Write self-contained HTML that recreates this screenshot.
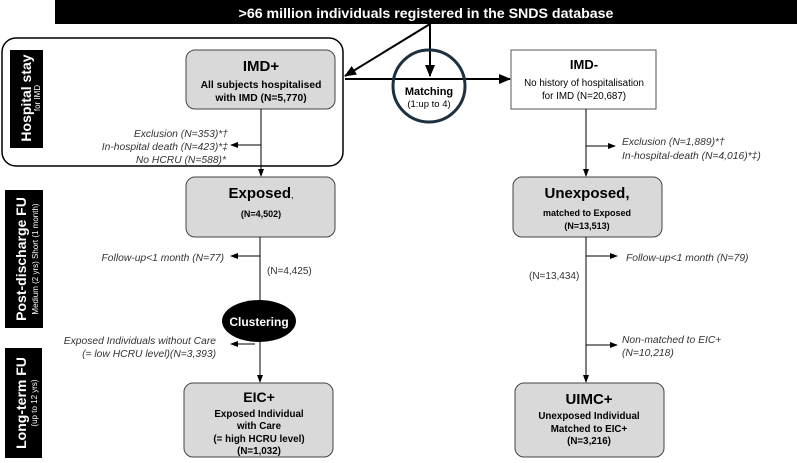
<!DOCTYPE html>
<html><head><meta charset="utf-8"><style>
body{margin:0;background:#fff}
svg text{font-family:"Liberation Sans",Arial,sans-serif}
</style></head><body>
<svg width="798" height="458" viewBox="0 0 798 458" xmlns="http://www.w3.org/2000/svg">
<defs>
<marker id="a" markerWidth="8" markerHeight="8" refX="7" refY="4" orient="auto" markerUnits="userSpaceOnUse"><path d="M0,1 L8,4 L0,7 z" fill="#000"/></marker>
<marker id="b" markerWidth="12" markerHeight="12" refX="11" refY="6" orient="auto" markerUnits="userSpaceOnUse"><path d="M0,1 L12,6 L0,11 z" fill="#000"/></marker>
</defs>
<rect x="55" y="0" width="742" height="24" fill="#000"/>
<text x="426" y="18" font-size="14.2" font-weight="bold" fill="#fff" text-anchor="middle">&gt;66 million individuals registered in the SNDS database</text>

<rect x="2" y="38" width="341" height="128" rx="14" fill="none" stroke="#000" stroke-width="1.5"/>
<rect x="10" y="50" width="33" height="98" fill="#000"/>
<text transform="translate(31,98) rotate(-90)" font-size="14" font-weight="bold" fill="#fff" text-anchor="middle">Hospital stay</text>
<text transform="translate(40,98) rotate(-90)" font-size="8" fill="#fff" text-anchor="middle">for IMD</text>

<rect x="5" y="190" width="38" height="138" fill="#000"/>
<text transform="translate(26,259) rotate(-90)" font-size="14" font-weight="bold" fill="#fff" text-anchor="middle">Post-discharge FU</text>
<text transform="translate(38,259) rotate(-90)" font-size="8" fill="#fff" text-anchor="middle">Medium (2 yrs) Short (1 month)</text>
<rect x="5" y="348" width="37" height="110" fill="#000"/>
<text transform="translate(26,403) rotate(-90)" font-size="14" font-weight="bold" fill="#fff" text-anchor="middle">Long-term FU</text>
<text transform="translate(37,403) rotate(-90)" font-size="8" fill="#fff" text-anchor="middle">(up to 12 yrs)</text>

<!-- IMD+ -->
<rect x="186" y="50" width="149" height="59" rx="9" fill="#d9d9d9" stroke="#444"/>
<text x="261" y="71" font-size="15" font-weight="bold" text-anchor="middle">IMD+</text>
<text x="261" y="88" font-size="10.3" font-weight="bold" text-anchor="middle">All subjects hospitalised</text>
<text x="261" y="101" font-size="10.3" font-weight="bold" text-anchor="middle">with IMD (N=5,770)</text>
<line x1="261" y1="109" x2="261" y2="176" stroke="#000" marker-end="url(#a)"/>
<line x1="261" y1="145" x2="231" y2="145" stroke="#000" marker-end="url(#a)"/>
<g font-size="10.3" font-style="italic" fill="#333" text-anchor="end">
<text x="228" y="137">Exclusion (N=353)*†</text>
<text x="228" y="150">In-hospital death (N=423)*‡</text>
<text x="226" y="163">No HCRU (N=588)*</text>
</g>

<!-- Exposed -->
<rect x="186" y="177" width="149" height="60" rx="9" fill="#d9d9d9" stroke="#444"/>
<text x="261" y="198" font-size="15" font-weight="bold" text-anchor="middle">Exposed<tspan font-size="9" font-weight="normal">,</tspan></text>
<text x="261" y="217" font-size="9" font-weight="bold" text-anchor="middle">(N=4,502)</text>
<line x1="260" y1="237" x2="260" y2="301" stroke="#000"/>
<line x1="260" y1="256" x2="231" y2="256" stroke="#000" marker-end="url(#a)"/>
<text x="224" y="261" font-size="10.3" font-style="italic" fill="#333" text-anchor="end">Follow-up&lt;1 month (N=77)</text>
<text x="267" y="274" font-size="10" fill="#333">(N=4,425)</text>
<ellipse cx="259" cy="321" rx="37" ry="21" fill="#000"/>
<text x="259" y="326" font-size="12" font-weight="bold" fill="#fff" text-anchor="middle">Clustering</text>
<line x1="260" y1="342" x2="260" y2="382" stroke="#000" marker-end="url(#a)"/>
<line x1="255" y1="344" x2="231" y2="344" stroke="#000" marker-end="url(#a)"/>
<g font-size="10.3" font-style="italic" fill="#333" text-anchor="end">
<text x="216" y="344">Exposed Individuals without Care</text>
<text x="216" y="357">(= low HCRU level)(N=3,393)</text>
</g>
<rect x="184" y="383" width="149" height="74" rx="9" fill="#d9d9d9" stroke="#444"/>
<text x="259" y="402" font-size="14" font-weight="bold" text-anchor="middle">EIC+</text>
<g font-size="9.8" font-weight="bold" text-anchor="middle">
<text x="259" y="417">Exposed Individual</text>
<text x="259" y="429">with Care</text>
<text x="259" y="442">(= high HCRU level)</text>
<text x="259" y="454">(N=1,032)</text>
</g>

<!-- Matching -->
<line x1="430" y1="24" x2="345" y2="76" stroke="#000" stroke-width="2" marker-end="url(#b)"/>
<line x1="430" y1="24" x2="430" y2="76" stroke="#000" stroke-width="2" marker-end="url(#b)"/>
<line x1="345" y1="79" x2="510" y2="79" stroke="#000" stroke-width="2" marker-end="url(#b)"/>
<circle cx="429" cy="86" r="36" fill="none" stroke="#1c3040" stroke-width="3"/>
<text x="429" y="95" font-size="11" font-weight="bold" text-anchor="middle">Matching</text>
<text x="429" y="107" font-size="9.5" text-anchor="middle">(1:up to 4)</text>

<!-- IMD- -->
<rect x="511" y="50" width="145" height="59" fill="#fff" stroke="#555"/>
<text x="584" y="69" font-size="13" font-weight="bold" text-anchor="middle">IMD-</text>
<text x="584" y="86" font-size="9.8" text-anchor="middle">No history of hospitalisation</text>
<text x="584" y="99" font-size="9.8" text-anchor="middle">for IMD (N=20,687)</text>
<line x1="586" y1="109" x2="586" y2="176" stroke="#000" marker-end="url(#a)"/>
<line x1="586" y1="146" x2="615" y2="146" stroke="#000" marker-end="url(#a)"/>
<g font-size="10.3" font-style="italic" fill="#333">
<text x="622" y="145">Exclusion (N=1,889)*†</text>
<text x="622" y="159">In-hospital-death (N=4,016)*‡)</text>
</g>
<rect x="513" y="177" width="149" height="60" rx="9" fill="#d9d9d9" stroke="#444"/>
<text x="587" y="198" font-size="15" font-weight="bold" text-anchor="middle">Unexposed,</text>
<text x="587" y="216" font-size="9" font-weight="bold" text-anchor="middle">matched to Exposed</text>
<text x="587" y="229" font-size="9" font-weight="bold" text-anchor="middle">(N=13,513)</text>
<line x1="586" y1="237" x2="586" y2="382" stroke="#000" marker-end="url(#a)"/>
<line x1="586" y1="256" x2="617" y2="256" stroke="#000" marker-end="url(#a)"/>
<text x="626" y="261" font-size="10.3" font-style="italic" fill="#333">Follow-up&lt;1 month (N=79)</text>
<text x="529" y="279" font-size="10" fill="#333">(N=13,434)</text>
<line x1="586" y1="345" x2="617" y2="345" stroke="#000" marker-end="url(#a)"/>
<text x="622" y="343" font-size="10.3" font-style="italic" fill="#333">Non-matched to EIC+</text>
<text x="622" y="356" font-size="10.3" font-style="italic" fill="#333">(N=10,218)</text>
<rect x="515" y="383" width="149" height="74" rx="9" fill="#d9d9d9" stroke="#444"/>
<text x="589" y="404" font-size="15" font-weight="bold" text-anchor="middle">UIMC+</text>
<g font-size="9.8" font-weight="bold" text-anchor="middle">
<text x="589" y="419">Unexposed Individual</text>
<text x="589" y="432">Matched to EIC+</text>
<text x="589" y="444">(N=3,216)</text>
</g>
</svg>
</body></html>
